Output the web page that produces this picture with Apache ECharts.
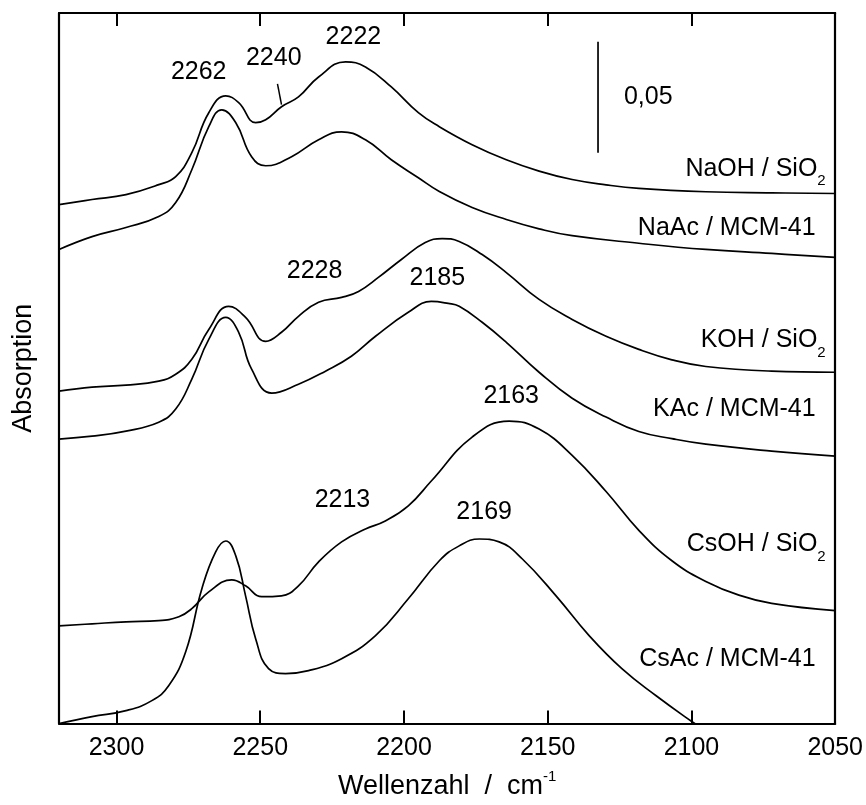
<!DOCTYPE html>
<html><head><meta charset="utf-8">
<script src="https://cdn.jsdelivr.net/npm/echarts@6/dist/echarts.min.js"></script>
<style>html,body{margin:0;padding:0;background:#fff}#c{width:866px;height:805px}</style>
</head><body><div id="c"></div>
<script>
// Wavenumbers (cm^-1) and absorbance values (offset traces)
const naohX = [2320,2308.5,2296.7,2285.3,2279.4,2273.8,2267.9,2262.0,2257.5,2251.6,2248.1,2242.6,2236.7,2229.7,2220.3,2213.4,2204.4,2195.0,2187.7,2176.3,2164.4,2153.0,2141.5,2129.7,2118.3,2095.0,2072.1,2050];
const naohY = [0.2337,0.2360,0.2382,0.2427,0.2463,0.2571,0.2751,0.2827,0.2796,0.2706,0.2719,0.2778,0.2822,0.2912,0.2980,0.2957,0.2867,0.2751,0.2688,0.2607,0.2539,0.2488,0.2450,0.2426,0.2410,0.2395,0.2390,0.2387];
const naacX = [2320,2308.5,2296.7,2285.3,2279.4,2273.8,2267.9,2263.4,2258.5,2253.0,2248.1,2239.1,2229.7,2221.7,2213.4,2204.4,2195.0,2187.7,2176.3,2164.4,2153.0,2141.5,2118.3,2095.0,2072.1,2050];
const naacY = [0.2135,0.2193,0.2234,0.2283,0.2346,0.2494,0.2688,0.2764,0.2706,0.2553,0.2512,0.2553,0.2629,0.2665,0.2629,0.2539,0.2458,0.2396,0.2324,0.2270,0.2228,0.2197,0.2163,0.2135,0.2117,0.2099];
const kohX = [2320,2308.5,2296.7,2285.3,2279.4,2273.8,2267.9,2261.0,2255.1,2248.1,2242.6,2236.7,2229.7,2221.7,2215.8,2208.9,2200.9,2192.6,2186.7,2180.8,2172.8,2164.4,2153.0,2141.5,2129.7,2118.3,2106.8,2095.0,2072.1,2050];
const kohY = [0.1497,0.1515,0.1524,0.1542,0.1573,0.1640,0.1775,0.1879,0.1829,0.1721,0.1762,0.1834,0.1897,0.1919,0.1946,0.2009,0.2090,0.2166,0.2184,0.2171,0.2112,0.2031,0.1910,0.1820,0.1744,0.1685,0.1638,0.1608,0.1587,0.1582];
const kacX = [2320,2308.5,2296.7,2285.3,2279.4,2273.8,2267.9,2262.0,2257.5,2253.0,2246.0,2236.7,2227.3,2218.3,2209.9,2198.5,2190.5,2184.6,2180.8,2172.8,2164.4,2153.0,2141.5,2129.7,2118.3,2106.8,2095.0,2072.1,2050];
const kacY = [0.1281,0.1294,0.1317,0.1357,0.1416,0.1551,0.1730,0.1829,0.1762,0.1596,0.1488,0.1528,0.1587,0.1654,0.1744,0.1852,0.1901,0.1892,0.1879,0.1807,0.1717,0.1582,0.1465,0.1380,0.1315,0.1283,0.1258,0.1227,0.1204];
const csohX = [2320,2308.5,2296.7,2285.3,2278.3,2273.8,2267.9,2259.9,2255.1,2249.5,2242.6,2236.7,2229.7,2221.7,2213.4,2206.5,2198.5,2190.5,2176.3,2163.4,2153.0,2141.5,2129.7,2118.3,2106.8,2095.0,2083.5,2072.1,2050];
const csohY = [0.0440,0.0449,0.0458,0.0463,0.0481,0.0517,0.0593,0.0647,0.0620,0.0571,0.0575,0.0620,0.0728,0.0818,0.0876,0.0912,0.0980,0.1092,0.1290,0.1362,0.1326,0.1208,0.1045,0.0870,0.0733,0.0640,0.0578,0.0541,0.0508];
const csacX = [2320,2308.5,2296.7,2287.7,2281.8,2275.9,2270.3,2265.5,2262.0,2258.5,2255.1,2251.6,2247.1,2241.2,2233.2,2221.7,2209.9,2198.5,2187.7,2180.8,2173.8,2166.9,2158.9,2147.1,2135.6,2124.2,2112.4,2099.9,2097];
const csacY = [0,0.0031,0.0058,0.0103,0.0171,0.0324,0.0607,0.0773,0.0822,0.0755,0.0575,0.0382,0.0247,0.0225,0.0238,0.0292,0.0396,0.0562,0.0733,0.0800,0.0831,0.0818,0.0742,0.0575,0.0396,0.0247,0.0126,0.0009,-0.0015];

const traceNames = ['NaOH / SiO{s|2}','NaAc / MCM-41','KOH / SiO{s|2}','KAc / MCM-41','CsOH / SiO{s|2}','CsAc / MCM-41'];
const traceLabelX = [2053.3,2056.8,2053.3,2056.8,2053.3,2056.8];
const traceLabelY = [0.2499,0.2229,0.1726,0.1416,0.0809,0.0288];

const peakLabels = ['2262','2240','2222','2228','2185','2163','2213','2169'];
const peakLabelX = [2271.4,2245.3,2217.6,2231.1,2188.4,2162.7,2221.4,2172.1];
const peakLabelY = [0.2935,0.2998,0.3092,0.2036,0.2004,0.1474,0.1007,0.0953];

const marker2240X = [2244.0,2242.6];
const marker2240Y = [0.2881,0.2787];
const scaleBarX = [2132.5,2132.5];
const scaleBarY = [0.2571,0.3070];
const scaleBarText = '0,05';
const scaleTextX = 2123.5, scaleTextY = 0.2822;

const xTicks = [2300,2250,2200,2150,2100,2050];

const zip = (xs, ys) => xs.map((x,i)=>[x, ys[i]]);
const FONT = '"Liberation Sans", Arial, Helvetica, sans-serif';
const TXT = {color:'#000', fontFamily:FONT, textBorderWidth:0, textShadowBlur:0, opacity:1};

const chart = echarts.init(document.getElementById('c'), null, {renderer:'canvas'});
const lineStyle = {color:'#000', width:1.7, opacity:1};
const traces = [[naohX,naohY],[naacX,naacY],[kohX,kohY],[kacX,kacY],[csohX,csohY],[csacX,csacY]];
const series = traces.map(t => ({
  type:'line', data: zip(t[0], t[1]), smooth:0.45, showSymbol:false, symbol:'none',
  lineStyle, silent:true, clip:true, z:2
}));
series.push({type:'line', data: zip(marker2240X, marker2240Y), showSymbol:false, symbol:'none', lineStyle:{color:'#000',width:1.5}, silent:true});
series.push({type:'line', data: zip(scaleBarX, scaleBarY), showSymbol:false, symbol:'none', lineStyle:{color:'#000',width:1.7}, silent:true});
const labelSeries = (data, extra) => ({
  type:'scatter', symbolSize:0, silent:true, z:5,
  itemStyle:{color:'#000', opacity:1},
  emphasis:{disabled:true},
  data,
  label:Object.assign({show:true, position:'inside', formatter: p=>p.name, fontSize:25, verticalAlign:'middle'}, extra, TXT)
});
series.push(labelSeries(peakLabels.map((t,i)=>({value:[peakLabelX[i], peakLabelY[i]], name:t})), {align:'center'}));
series.push(labelSeries([{value:[scaleTextX, scaleTextY], name:scaleBarText}], {align:'left'}));
series.push(labelSeries(traceNames.map((t,i)=>({value:[traceLabelX[i], traceLabelY[i]], name:t})),
  {align:'right', rich:{s:Object.assign({fontSize:15, verticalAlign:'bottom', lineHeight:40}, TXT)}}));

chart.setOption({
  animation:false,
  backgroundColor:'#fff',
  grid:{left:59, right:30, top:13, bottom:80, containLabel:false},
  xAxis:[{
    type:'value', min:2050, max:2320, interval:50, inverse:true, position:'bottom',
    axisLine:{show:true, onZero:false, lineStyle:{color:'#000', width:2.2}},
    axisTick:{show:true, inside:true, length:13, lineStyle:{color:'#000', width:2}},
    axisLabel:Object.assign({show:true, fontSize:25, margin:12, showMaxLabel:false, formatter:v=>xTicks.includes(v)?String(v):''}, TXT),
    splitLine:{show:false},
    name:'Wellenzahl  /  cm{sup|-1}', nameLocation:'middle', nameGap:46,
    nameTextStyle:Object.assign({fontSize:27, rich:{sup:Object.assign({fontSize:15, verticalAlign:'top', lineHeight:34}, TXT)}}, TXT)
  },{
    type:'value', min:2050, max:2320, interval:50, inverse:true, position:'top',
    axisLine:{show:true, onZero:false, lineStyle:{color:'#000', width:2.2}},
    axisTick:{show:true, inside:true, length:13, lineStyle:{color:'#000', width:2}},
    axisLabel:{show:false}, splitLine:{show:false}
  }],
  yAxis:[{
    type:'value', min:0, max:0.32, position:'left',
    axisLine:{show:true, onZero:false, lineStyle:{color:'#000', width:2.2}},
    axisTick:{show:false}, axisLabel:{show:false}, splitLine:{show:false},
    name:'Absorption', nameLocation:'middle', nameGap:22, nameRotate:90,
    nameTextStyle:Object.assign({fontSize:27}, TXT)
  },{
    type:'value', min:0, max:0.32, position:'right',
    axisLine:{show:true, onZero:false, lineStyle:{color:'#000', width:2.2}},
    axisTick:{show:false}, axisLabel:{show:false}, splitLine:{show:false}
  }],
  series
});
</script></body></html>
